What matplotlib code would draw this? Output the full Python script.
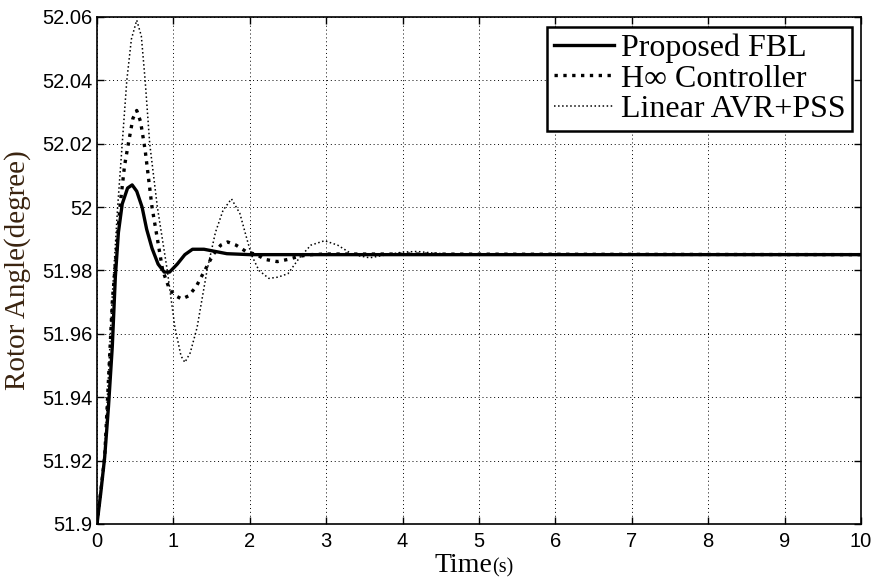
import matplotlib
matplotlib.use("Agg")
import matplotlib.pyplot as plt
from matplotlib.ticker import FuncFormatter

# Proposed FBL (solid, thick)
t_fbl = [0, 0.05, 0.10, 0.15, 0.20, 0.24, 0.28, 0.33, 0.40, 0.46, 0.52, 0.59,
         0.65, 0.72, 0.80, 0.88, 0.95, 1.05, 1.15, 1.25, 1.40, 1.55, 1.70, 2.0, 10.0]
y_fbl = [51.900, 51.910, 51.921, 51.937, 51.956, 51.978, 51.992, 52.001, 52.006, 52.007,
         52.005, 52.000, 51.993, 51.987, 51.982, 51.9795, 51.9795, 51.982, 51.985, 51.9867,
         51.9867, 51.986, 51.9853, 51.985, 51.985]

# H-infinity controller (thick dots)
t_hinf = [0, 0.10, 0.20, 0.30, 0.36, 0.41, 0.47, 0.52, 0.57, 0.63, 0.72, 0.86, 0.95,
          1.03, 1.11, 1.20, 1.30, 1.41, 1.52, 1.62, 1.71, 1.82, 1.95, 2.09, 2.20, 2.36,
          2.50, 2.65, 2.80, 3.0, 10.0]
y_hinf = [51.900, 51.921, 51.970, 52.000, 52.013, 52.020, 52.028, 52.0305, 52.027, 52.018,
          52.000, 51.980, 51.974, 51.972, 51.971, 51.972, 51.975, 51.980, 51.985, 51.988,
          51.989, 51.988, 51.986, 51.985, 51.9835, 51.9828, 51.9835, 51.9845, 51.985,
          51.9852, 51.985]

# Linear AVR+PSS (thin dots)
t_avr = [0, 0.10, 0.20, 0.27, 0.33, 0.39, 0.45, 0.52, 0.58, 0.63, 0.69, 0.79, 0.92,
         1.02, 1.10, 1.15, 1.22, 1.31, 1.44, 1.55, 1.65, 1.76, 1.87, 1.95, 2.02, 2.12,
         2.25, 2.37, 2.50, 2.65, 2.80, 2.98, 3.15, 3.35, 3.57, 3.80, 4.0, 4.19, 4.40,
         4.70, 10.0]
y_avr = [51.900, 51.922, 51.972, 52.000, 52.020, 52.040, 52.053, 52.059, 52.054, 52.040,
         52.020, 52.000, 51.980, 51.962, 51.953, 51.951, 51.954, 51.962, 51.980, 51.992,
         51.999, 52.0026, 51.998, 51.991, 51.985, 51.980, 51.9775, 51.9779, 51.979,
         51.984, 51.988, 51.9894, 51.988, 51.985, 51.984, 51.985, 51.9858, 51.986,
         51.9855, 51.985, 51.985]

labels = ["Proposed FBL", "H\u221e Controller", "Linear AVR+PSS"]
x_ticks = list(range(0, 11))
y_ticks = [51.90, 51.92, 51.94, 51.96, 51.98, 52.00, 52.02, 52.04, 52.06]

serif = ["Liberation Serif", "DejaVu Serif"]

fig = plt.figure(figsize=(8.74, 5.8), dpi=100)
ax = fig.add_axes([0.111, 0.0966, 0.874, 0.8741])

ax.plot(t_fbl, y_fbl, color="black", lw=2.4, ls="-", label=labels[0])
ax.plot(t_hinf, y_hinf, color="black", lw=2.4, ls=":", label=labels[1])
ax.plot(t_avr, y_avr, color="black", lw=1.1, ls=":", label=labels[2])

ax.set_xlim(0, 10)
ax.set_ylim(51.9, 52.06)
ax.set_xticks(x_ticks)
ax.set_yticks(y_ticks)
ax.yaxis.set_major_formatter(FuncFormatter(lambda v, p: f"{v:g}"))
ax.grid(True, color="black", lw=0.7, ls=(0, (1, 3)))
ax.tick_params(direction="in", length=5, width=1, top=True, right=True,
               labelsize=14.5, colors="black")
ax.tick_params(axis="x", pad=6)
ax.tick_params(axis="y", pad=3)
for lab in ax.get_xticklabels() + ax.get_yticklabels():
    lab.set_family(["Liberation Sans", "DejaVu Sans"])
for sp in ax.spines.values():
    sp.set_linewidth(1.2)

ax.set_ylabel("Rotor Angle(degree)", family=serif, fontsize=21,
              color="#3a2410", labelpad=8)

# x label: "Time" large with smaller "(s)"
fig.text(0.563, 0.013, "Time", family=serif, fontsize=20, ha="right", va="baseline")
fig.text(0.563, 0.013, "(s)", family=serif, fontsize=14.5, ha="left", va="baseline")

leg = ax.legend(loc="upper right", bbox_to_anchor=(0.988, 0.980), borderaxespad=0,
                prop={"family": serif, "size": 23},
                fancybox=False, framealpha=1, edgecolor="black", handlelength=1.9,
                handletextpad=0.2, labelspacing=0.04, borderpad=0.2)
leg.get_frame().set_linewidth(1.8)

fig.savefig("out.png", dpi=100)
